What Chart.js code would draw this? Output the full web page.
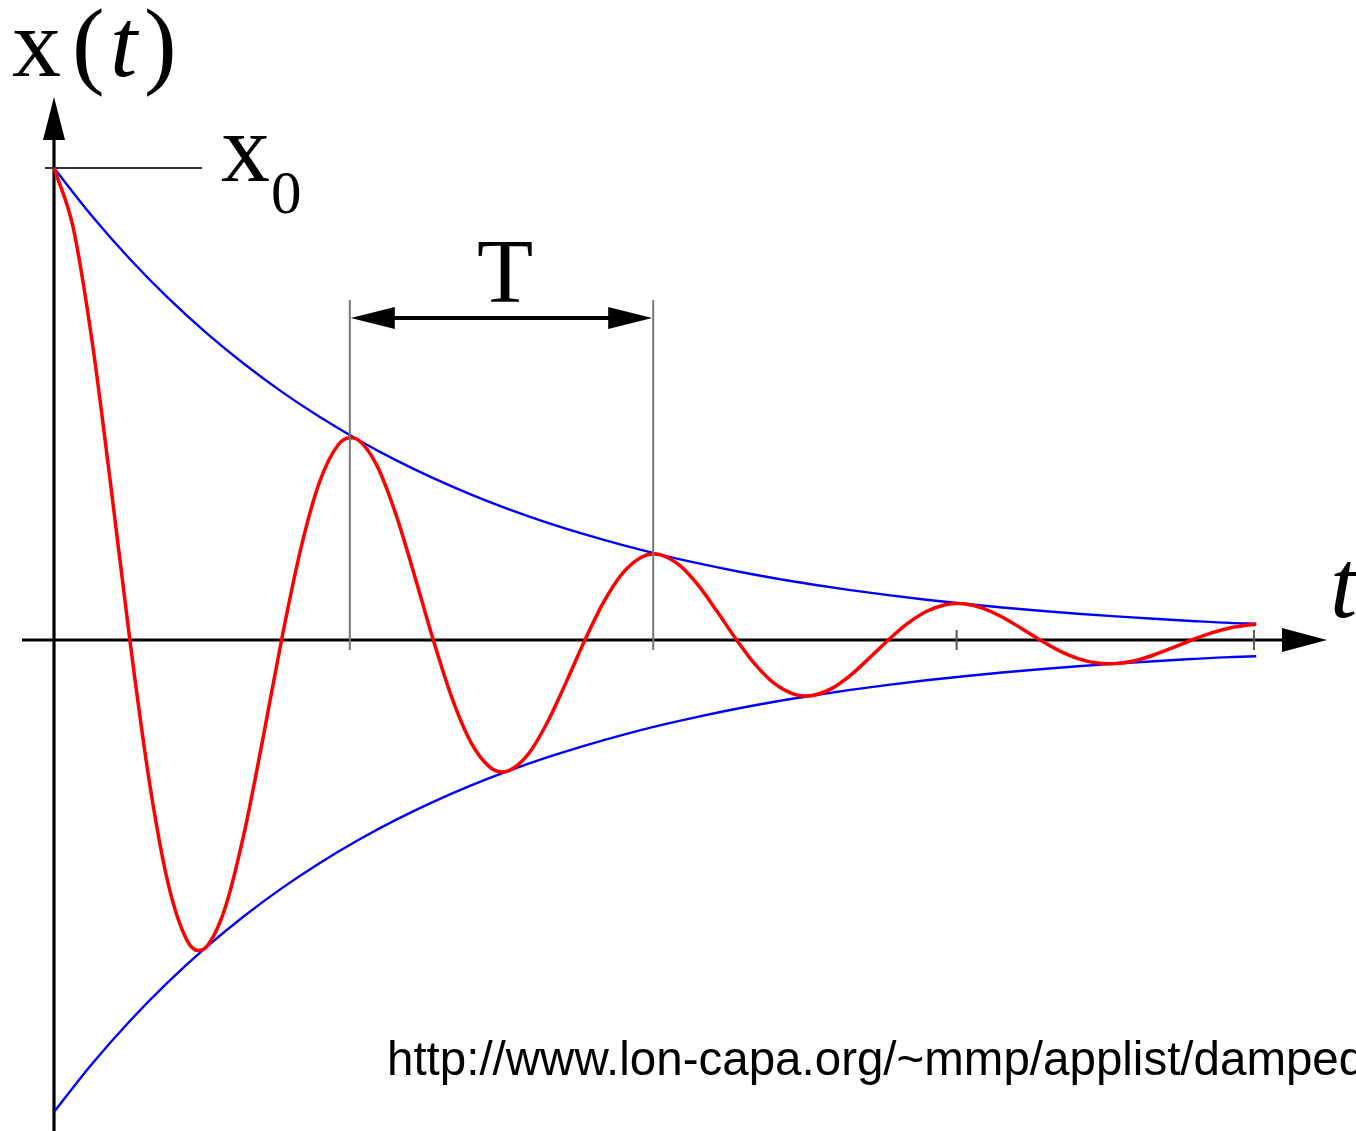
<!DOCTYPE html>
<html>
<head>
<meta charset="utf-8">
<title>Damped oscillation</title>
<script src="https://cdn.jsdelivr.net/npm/chart.js@4.4.0/dist/chart.umd.min.js"></script>
<style>
  html, body { margin: 0; padding: 0; background: #fff; overflow: hidden; }
  #wrap { position: relative; width: 1356px; height: 1131px; }
</style>
</head>
<body>
<div id="wrap"><canvas id="c"></canvas></div>
<script>
// Time samples in half-period units (one full period T = 2);
// the x.95 entries are the turning points of the oscillation
const tRed = [
  0, 0.125, 0.25, 0.375, 0.5, 0.625, 0.75, 0.875, 0.95,
  1, 1.125, 1.25, 1.375, 1.5, 1.625, 1.75, 1.875, 1.95,
  2, 2.125, 2.25, 2.375, 2.5, 2.625, 2.75, 2.875, 2.95,
  3, 3.125, 3.25, 3.375, 3.5, 3.625, 3.75, 3.875, 3.95,
  4, 4.125, 4.25, 4.375, 4.5, 4.625, 4.75, 4.875, 4.95,
  5, 5.125, 5.25, 5.375, 5.5, 5.625, 5.75, 5.875, 5.95,
  6, 6.125, 6.25, 6.375, 6.5, 6.625, 6.75, 6.875, 6.95,
  7, 7.125, 7.25, 7.375, 7.5, 7.625, 7.75, 7.875,
  7.925
];

// Displacement x(t) relative to the initial amplitude x0
const xRed = [
  1.0000, 0.8758, 0.6354, 0.3259, 0, -0.2929, -0.5130, -0.6353, -0.6577,
  -0.6518, -0.5708, -0.4141, -0.2125, 0, 0.1909, 0.3344, 0.4141, 0.4287,
  0.4249, 0.3721, 0.2699, 0.1385, 0, -0.1244, -0.2179, -0.2699, -0.2794,
  -0.2769, -0.2425, -0.1759, -0.0903, 0, 0.0811, 0.1421, 0.1759, 0.1821,
  0.1805, 0.1581, 0.1147, 0.0588, 0, -0.0529, -0.0926, -0.1147, -0.1187,
  -0.1177, -0.1030, -0.0748, -0.0383, 0, 0.0345, 0.0604, 0.0747, 0.0774,
  0.0767, 0.0672, 0.0487, 0.0250, 0, -0.0225, -0.0393, -0.0487, -0.0504,
  -0.0500, -0.0438, -0.0318, -0.0163, 0, 0.0146, 0.0256, 0.0318,
  0.0335
];

// Exponential envelope samples
const tEnv = [
  0, 0.25, 0.5, 0.75, 1, 1.25, 1.5, 1.75,
  2, 2.25, 2.5, 2.75, 3, 3.25, 3.5, 3.75,
  4, 4.25, 4.5, 4.75, 5, 5.25, 5.5, 5.75,
  6, 6.25, 6.5, 6.75, 7, 7.25, 7.5, 7.75,
  7.925
];
const envUpper = [
  1.0000, 0.8985, 0.8073, 0.7254, 0.6518, 0.5857, 0.5262, 0.4728,
  0.4249, 0.3817, 0.3430, 0.3082, 0.2769, 0.2488, 0.2236, 0.2009,
  0.1805, 0.1622, 0.1457, 0.1309, 0.1177, 0.1057, 0.0950, 0.0853,
  0.0767, 0.0689, 0.0619, 0.0556, 0.0500, 0.0449, 0.0404, 0.0363,
  0.0345
];
const envLower = [
  -1.0000, -0.8985, -0.8073, -0.7254, -0.6518, -0.5857, -0.5262, -0.4728,
  -0.4249, -0.3817, -0.3430, -0.3082, -0.2769, -0.2488, -0.2236, -0.2009,
  -0.1805, -0.1622, -0.1457, -0.1309, -0.1177, -0.1057, -0.0950, -0.0853,
  -0.0767, -0.0689, -0.0619, -0.0556, -0.0500, -0.0449, -0.0404, -0.0363,
  -0.0345
];

// Times of successive maxima, one period apart (marked on the time axis)
const periodMarks = [1.95, 3.95, 5.95, 7.91];

// Text labels
const yAxisLabel = ['x', '(', 't', ')'];
const amplitudeLabel = ['x', '0'];
const periodLabel = 'T';
const timeLabel = 't';
const sourceText = 'http://www.lon-capa.org/~mmp/applist/damped/d.htm';

// Layout: origin of the axes in canvas pixels and the pixel size of one unit
const W = 1356, H = 1131;
const ORIGIN_X = 54, ORIGIN_Y = 640;
const PX_PER_T = 151.7, PX_PER_X = 472;

const pts = (ts, vs) => ts.map((t, i) => ({ x: t, y: vs[i] }));

function arrowHead(ctx, tipX, tipY, dir, len, half) {
  ctx.beginPath();
  if (dir === 'up') {
    ctx.moveTo(tipX, tipY);
    ctx.lineTo(tipX - half, tipY + len);
    ctx.lineTo(tipX + half, tipY + len);
  } else if (dir === 'right') {
    ctx.moveTo(tipX, tipY);
    ctx.lineTo(tipX - len, tipY - half);
    ctx.lineTo(tipX - len, tipY + half);
  } else {
    ctx.moveTo(tipX, tipY);
    ctx.lineTo(tipX + len, tipY - half);
    ctx.lineTo(tipX + len, tipY + half);
  }
  ctx.closePath();
  ctx.fill();
}

function seg(ctx, x1, y1, x2, y2) {
  ctx.beginPath();
  ctx.moveTo(x1, y1);
  ctx.lineTo(x2, y2);
  ctx.stroke();
}

const decor = {
  id: 'decor',
  beforeDatasetsDraw(chart) {
    const { ctx, scales: { x, y } } = chart;
    const ox = x.getPixelForValue(0), oy = y.getPixelForValue(0);
    ctx.save();
    ctx.strokeStyle = '#000';
    ctx.fillStyle = '#000';
    ctx.lineWidth = 3.2;
    // time axis
    seg(ctx, 22, oy, 1290, oy);
    arrowHead(ctx, 1327, oy, 'right', 45, 12);
    // displacement axis
    seg(ctx, ox, H, ox, 130);
    arrowHead(ctx, ox, 97, 'up', 43, 11);
    // x0 level marker
    const y0 = y.getPixelForValue(1);
    ctx.strokeStyle = '#333';
    ctx.lineWidth = 2;
    seg(ctx, ox - 9, y0, 202, y0);
    ctx.restore();
  },
  afterDatasetsDraw(chart) {
    const { ctx, scales: { x, y } } = chart;
    const oy = y.getPixelForValue(0);
    ctx.save();
    // period markers
    const topY = 300;
    periodMarks.forEach((t, i) => {
      const px = x.getPixelForValue(t);
      ctx.strokeStyle = i < 2 ? '#777' : '#555';
      ctx.lineWidth = 2;
      if (i < 2) seg(ctx, px, topY, px, oy + 10);
      else seg(ctx, px, oy - 10, px, oy + 10);
    });
    // T bracket arrow
    const xa = x.getPixelForValue(periodMarks[0]);
    const xb = x.getPixelForValue(periodMarks[1]);
    const yT = 318;
    ctx.strokeStyle = '#000';
    ctx.fillStyle = '#000';
    ctx.lineWidth = 4;
    seg(ctx, xa + 30, yT, xb - 30, yT);
    arrowHead(ctx, xa + 1, yT, 'left', 44, 11);
    arrowHead(ctx, xb - 1, yT, 'right', 44, 11);

    // labels
    ctx.fillStyle = '#000';
    ctx.textAlign = 'left';
    ctx.textBaseline = 'alphabetic';
    const serif = '"Liberation Serif", "Times New Roman", serif';
    ctx.font = '98px ' + serif;
    ctx.fillText(yAxisLabel[0], 12, 76);
    ctx.fillText(yAxisLabel[1], 72, 76);
    ctx.font = 'italic 98px ' + serif;
    ctx.fillText(yAxisLabel[2], 110, 76);
    ctx.font = '98px ' + serif;
    ctx.fillText(yAxisLabel[3], 144, 76);

    ctx.fillText(amplitudeLabel[0], 221, 181);
    ctx.font = '61px ' + serif;
    ctx.fillText(amplitudeLabel[1], 271, 213);

    ctx.font = '92px ' + serif;
    ctx.fillText(periodLabel, 477, 302);

    ctx.font = 'italic 98px ' + serif;
    ctx.fillText(timeLabel, 1330, 617);

    ctx.font = '47.5px "Liberation Sans", Arial, sans-serif';
    ctx.fillText(sourceText, 387, 1075);
    ctx.restore();
  }
};

new Chart(document.getElementById('c'), {
  type: 'line',
  data: {
    datasets: [
      {
        label: 'x(t)',
        data: pts(tRed, xRed),
        borderColor: '#ff0000',
        borderWidth: 3.5,
        pointRadius: 0,
        cubicInterpolationMode: 'monotone',
        order: 0
      },
      {
        label: 'upper envelope',
        data: pts(tEnv, envUpper),
        borderColor: '#0000ff',
        borderWidth: 2.4,
        pointRadius: 0,
        cubicInterpolationMode: 'monotone',
        order: 1
      },
      {
        label: 'lower envelope',
        data: pts(tEnv, envLower),
        borderColor: '#0000ff',
        borderWidth: 2.4,
        pointRadius: 0,
        cubicInterpolationMode: 'monotone',
        order: 1
      }
    ]
  },
  options: {
    responsive: true,
    maintainAspectRatio: false,
    animation: false,
    devicePixelRatio: 1,
    layout: { padding: 0 },
    plugins: { legend: { display: false }, tooltip: { enabled: false } },
    scales: {
      x: {
        type: 'linear',
        display: false,
        min: -ORIGIN_X / PX_PER_T,
        max: (W - ORIGIN_X) / PX_PER_T
      },
      y: {
        type: 'linear',
        display: false,
        min: -(H - ORIGIN_Y) / PX_PER_X,
        max: ORIGIN_Y / PX_PER_X
      }
    }
  },
  plugins: [decor]
});
</script>
</body>
</html>
